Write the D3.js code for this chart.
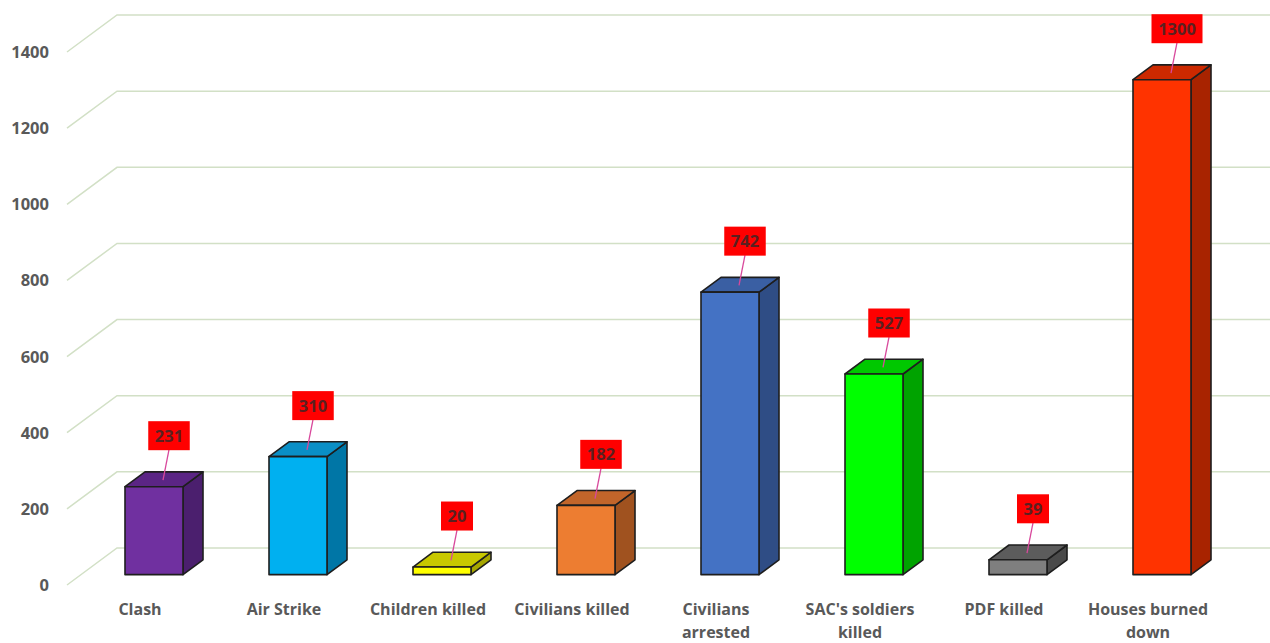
<!DOCTYPE html>
<html>
    <head>
        <script src="https://d3js.org/d3.v7.js"></script>
        <style>
            body{
                margin: 0;
                background: #ffffff;
            }
            text{
                font-family: "Open Sans", Lato, sans-serif;
                font-weight: bold;
            }
        </style>
    </head>
    <body>
        <div class='graph'>
            <script>
                const w = 1270
                const h = 643

                // data
                const categories = ['Clash', 'Air Strike', 'Children killed', 'Civilians killed',
                                    'Civilians\narrested', "SAC's soldiers\nkilled", 'PDF killed', 'Houses burned\ndown']
                const values = [231, 310, 20, 182, 742, 527, 39, 1300]
                const yTicks = [0, 200, 400, 600, 800, 1000, 1200, 1400]

                // front face, top face, side face
                const frontColours = ['#7030a0', '#00b0f0', '#ffff00', '#ed7d31', '#4472c4', '#00ff00', '#7f7f7f', '#ff3300']
                const topColours   = ['#5b2585', '#0a8fc6', '#c8c800', '#c2652a', '#3a5fa3', '#00c800', '#5c5c5c', '#cc2900']
                const sideColours  = ['#4b1f6e', '#0076a6', '#a6a600', '#a0521f', '#2f4d85', '#00a300', '#4a4a4a', '#a82300']

                const depthX = 50, depthY = -37      // full floor depth
                const barFront = 0.28, barBack = 0.68
                const halfBar = 29

                const svg = d3.select('.graph')
                        .append('svg')
                        .attr('width', w)
                        .attr('height', h)

                const x = d3.scalePoint()
                            .domain(categories)
                            .range([68, 1220])
                            .padding(0.5)

                const y = d3.scaleLinear()
                            .domain([0, 1400])
                            .range([585, 52])

                const px = (vx, t) => vx + depthX * t
                const py = (vy, t) => vy + depthY * t

                // walls / gridlines
                svg.append('g')
                    .selectAll('path')
                    .data(yTicks)
                    .enter()
                    .append('path')
                    .attr('d', d => 'M' + 67 + ',' + y(d) + 'L' + px(67, 1) + ',' + py(y(d), 1) + 'L' + w + ',' + py(y(d), 1))
                    .attr('fill', 'none')
                    .attr('stroke', '#d2e0c6')
                    .attr('stroke-width', 1.5)

                // y axis labels
                svg.append('g')
                    .selectAll('text')
                    .data(yTicks)
                    .enter()
                    .append('text')
                    .attr('x', 49)
                    .attr('y', d => y(d))
                    .attr('dy', '0.36em')
                    .attr('text-anchor', 'end')
                    .style('font-size', '16.5px')
                    .style('fill', '#595959')
                    .text(d => d)

                const rows = categories.map((c, i) => ({cat: c, value: values[i], i: i}))

                const bar = svg.append('g')
                                .selectAll('g')
                                .data(rows)
                                .enter()
                                .append('g')

                const poly = pts => 'M' + pts.map(p => p[0] + ',' + p[1]).join('L') + 'Z'

                const edges = d => {
                    const xl = x(d.cat) - halfBar, xr = x(d.cat) + halfBar
                    return {xl: xl, xr: xr, yt: y(d.value), yb: y(0)}
                }

                bar.append('path')
                    .attr('d', d => {
                        const e = edges(d)
                        return poly([[px(e.xr, barFront), py(e.yt, barFront)], [px(e.xr, barFront), py(e.yb, barFront)],
                                     [px(e.xr, barBack), py(e.yb, barBack)], [px(e.xr, barBack), py(e.yt, barBack)]])
                    })
                    .style('fill', d => sideColours[d.i])

                bar.append('path')
                    .attr('d', d => {
                        const e = edges(d)
                        return poly([[px(e.xl, barFront), py(e.yt, barFront)], [px(e.xr, barFront), py(e.yt, barFront)],
                                     [px(e.xr, barBack), py(e.yt, barBack)], [px(e.xl, barBack), py(e.yt, barBack)]])
                    })
                    .style('fill', d => topColours[d.i])

                bar.append('path')
                    .attr('d', d => {
                        const e = edges(d)
                        return poly([[px(e.xl, barFront), py(e.yt, barFront)], [px(e.xr, barFront), py(e.yt, barFront)],
                                     [px(e.xr, barFront), py(e.yb, barFront)], [px(e.xl, barFront), py(e.yb, barFront)]])
                    })
                    .style('fill', d => frontColours[d.i])

                bar.selectAll('path')
                    .attr('stroke', '#1e1e1e')
                    .attr('stroke-width', 1.6)
                    .attr('stroke-linejoin', 'round')

                // value labels with leader lines
                const labelX = d => px(x(d.cat), barFront) + 15
                const labelY = d => py(y(d.value), barFront) - 51

                bar.append('line')
                    .attr('x1', d => labelX(d))
                    .attr('y1', d => labelY(d) + 14)
                    .attr('x2', d => px(x(d.cat), 0.46))
                    .attr('y2', d => py(y(d.value), 0.46))
                    .attr('stroke', '#d8489c')
                    .attr('stroke-width', 1.3)

                const labelW = d => String(d.value).length * 9.5 + 13

                bar.append('rect')
                    .attr('x', d => labelX(d) - labelW(d) / 2)
                    .attr('y', d => labelY(d) - 14.5)
                    .attr('width', d => labelW(d))
                    .attr('height', 29)
                    .style('fill', '#ff0000')

                bar.append('text')
                    .attr('x', d => labelX(d))
                    .attr('y', d => labelY(d))
                    .attr('dy', '0.36em')
                    .attr('text-anchor', 'middle')
                    .style('font-size', '16.5px')
                    .style('fill', '#5a2020')
                    .text(d => d.value)

                // category labels
                const catLabel = svg.append('g')
                                    .selectAll('text')
                                    .data(categories)
                                    .enter()
                                    .append('text')
                                    .attr('text-anchor', 'middle')
                                    .attr('y', 609)
                                    .style('font-size', '16px')
                                    .style('fill', '#595959')

                catLabel.selectAll('tspan')
                    .data(c => c.split('\n').map(line => ({line: line, cat: c})))
                    .enter()
                    .append('tspan')
                    .attr('x', d => x(d.cat))
                    .attr('dy', (d, i) => i === 0 ? '0.35em' : '23px')
                    .text(d => d.line)
            </script>
        </div>
    </body>
</html>
